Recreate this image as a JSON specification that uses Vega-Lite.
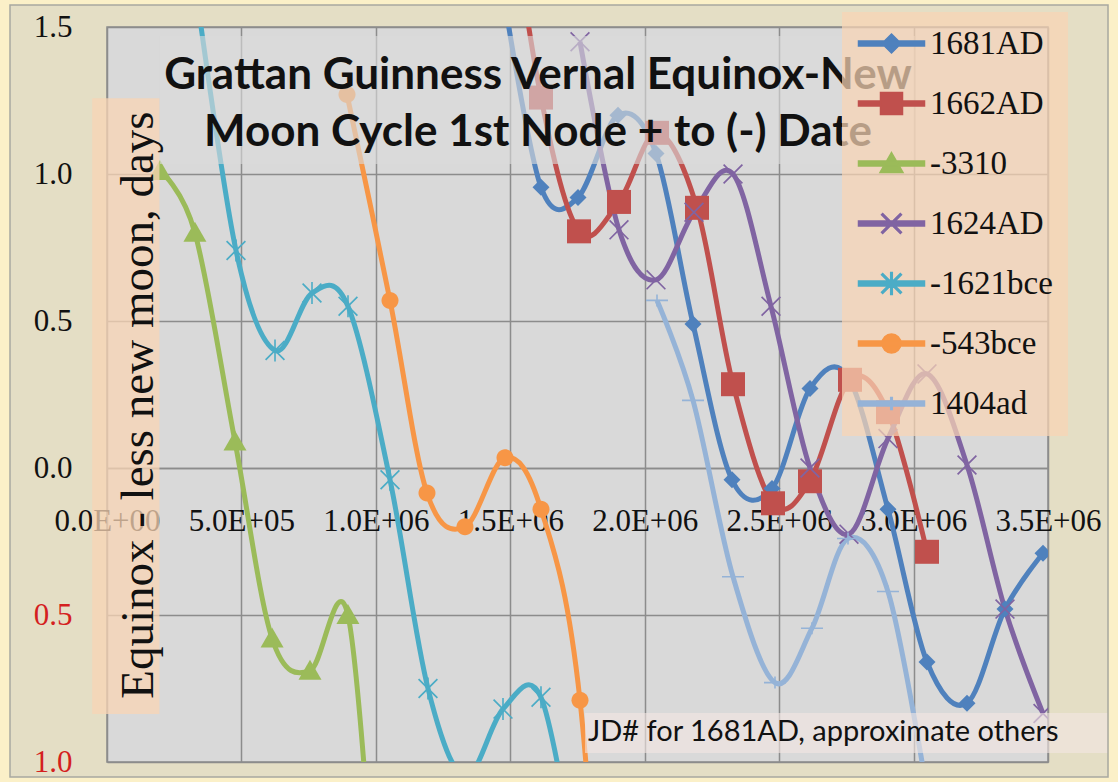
{
  "$schema": "https://vega.github.io/schema/vega-lite/v6.json",
  "width": 941,
  "height": 735,
  "autosize": {"type": "none"},
  "padding": {"left": 107, "top": 27, "right": 70, "bottom": 20},
  "background": "#E4DEC5",
  "config": {
    "view": {"fill": "#D9D9D9", "stroke": "#8C8C8C", "strokeWidth": 1.5}
  },
  "data": {
    "values": [
      {"s": "1681AD", "x": 1473000, "y": 1.62},
      {"s": "1681AD", "x": 1614200, "y": 0.955},
      {"s": "1681AD", "x": 1751800, "y": 0.92},
      {"s": "1681AD", "x": 1900600, "y": 1.2},
      {"s": "1681AD", "x": 2041900, "y": 1.07},
      {"s": "1681AD", "x": 2179600, "y": 0.49},
      {"s": "1681AD", "x": 2324600, "y": -0.04},
      {"s": "1681AD", "x": 2473400, "y": -0.07},
      {"s": "1681AD", "x": 2614700, "y": 0.27},
      {"s": "1681AD", "x": 2756100, "y": 0.31},
      {"s": "1681AD", "x": 2904800, "y": -0.14},
      {"s": "1681AD", "x": 3049900, "y": -0.66},
      {"s": "1681AD", "x": 3198700, "y": -0.8},
      {"s": "1681AD", "x": 3340000, "y": -0.48},
      {"s": "1681AD", "x": 3481400, "y": -0.29},

      {"s": "1662AD", "x": 1473000, "y": 2.1},
      {"s": "1662AD", "x": 1614200, "y": 1.26},
      {"s": "1662AD", "x": 1755600, "y": 0.805},
      {"s": "1662AD", "x": 1904300, "y": 0.905},
      {"s": "1662AD", "x": 2045700, "y": 1.14},
      {"s": "1662AD", "x": 2194500, "y": 0.885},
      {"s": "1662AD", "x": 2328400, "y": 0.285},
      {"s": "1662AD", "x": 2477100, "y": -0.12},
      {"s": "1662AD", "x": 2614700, "y": -0.045},
      {"s": "1662AD", "x": 2763500, "y": 0.3},
      {"s": "1662AD", "x": 2904800, "y": 0.19},
      {"s": "1662AD", "x": 3049900, "y": -0.285},

      {"s": "-3310", "x": 197000, "y": 1.01},
      {"s": "-3310", "x": 327000, "y": 0.8},
      {"s": "-3310", "x": 476000, "y": 0.09},
      {"s": "-3310", "x": 614000, "y": -0.58},
      {"s": "-3310", "x": 755000, "y": -0.69},
      {"s": "-3310", "x": 896000, "y": -0.5},
      {"s": "-3310", "x": 1010000, "y": -1.7},

      {"s": "1624AD", "x": 1759300, "y": 1.45},
      {"s": "1624AD", "x": 1904300, "y": 0.81},
      {"s": "1624AD", "x": 2041900, "y": 0.64},
      {"s": "1624AD", "x": 2183300, "y": 0.87},
      {"s": "1624AD", "x": 2328400, "y": 1.0},
      {"s": "1624AD", "x": 2469700, "y": 0.55},
      {"s": "1624AD", "x": 2614700, "y": 0.0},
      {"s": "1624AD", "x": 2759800, "y": -0.225},
      {"s": "1624AD", "x": 2904800, "y": 0.1},
      {"s": "1624AD", "x": 3049900, "y": 0.32},
      {"s": "1624AD", "x": 3198700, "y": 0.01},
      {"s": "1624AD", "x": 3340000, "y": -0.48},
      {"s": "1624AD", "x": 3481400, "y": -0.835},

      {"s": "-1621bce", "x": 320000, "y": 1.7},
      {"s": "-1621bce", "x": 479800, "y": 0.74},
      {"s": "-1621bce", "x": 624900, "y": 0.4},
      {"s": "-1621bce", "x": 762500, "y": 0.595},
      {"s": "-1621bce", "x": 896400, "y": 0.55},
      {"s": "-1621bce", "x": 1052600, "y": -0.04},
      {"s": "-1621bce", "x": 1193900, "y": -0.75},
      {"s": "-1621bce", "x": 1331500, "y": -1.05},
      {"s": "-1621bce", "x": 1472900, "y": -0.82},
      {"s": "-1621bce", "x": 1614200, "y": -0.78},
      {"s": "-1621bce", "x": 1751800, "y": -1.4},

      {"s": "-543bce", "x": 892700, "y": 1.27},
      {"s": "-543bce", "x": 1052600, "y": 0.57},
      {"s": "-543bce", "x": 1190200, "y": -0.085},
      {"s": "-543bce", "x": 1331500, "y": -0.2},
      {"s": "-543bce", "x": 1480300, "y": 0.035},
      {"s": "-543bce", "x": 1614200, "y": -0.14},
      {"s": "-543bce", "x": 1759300, "y": -0.79},
      {"s": "-543bce", "x": 1896900, "y": -2.5},

      {"s": "1404ad", "x": 2045700, "y": 0.57},
      {"s": "1404ad", "x": 2179600, "y": 0.23},
      {"s": "1404ad", "x": 2328400, "y": -0.37},
      {"s": "1404ad", "x": 2484600, "y": -0.73},
      {"s": "1404ad", "x": 2622100, "y": -0.545},
      {"s": "1404ad", "x": 2756100, "y": -0.24},
      {"s": "1404ad", "x": 2904800, "y": -0.42},
      {"s": "1404ad", "x": 3049900, "y": -1.1}
    ]
  },
  "layer": [
    {
      "mark": {"type": "line", "interpolate": "cardinal", "strokeWidth": 5, "clip": true},
      "encoding": {
        "x": {
          "field": "x", "type": "quantitative",
          "scale": {"domain": [0, 3500000], "nice": false, "zero": false},
          "axis": {
            "values": [0, 500000, 1000000, 1500000, 2000000, 2500000, 3000000, 3500000],
            "title": null,
            "offset": -294,
            "grid": true, "gridColor": "#8C8C8C", "gridWidth": 1.5,
            "domainColor": "#8C8C8C", "domainWidth": 1.5,
            "ticks": false,
            "labelFont": "Liberation Serif", "labelFontSize": 31, "labelColor": "#111111",
            "labelPadding": 38, "labelFlush": false, "labelOverlap": false,
            "labelExpr": "datum.value == 0 ? '0.0E+00' : format(datum.value / pow(10, floor(log(datum.value) / LN10 + 1e-9)), '.1f') + 'E+' + (floor(log(datum.value) / LN10 + 1e-9) < 10 ? '0' : '') + floor(log(datum.value) / LN10 + 1e-9)"
          }
        },
        "y": {
          "field": "y", "type": "quantitative",
          "scale": {"domain": [-1, 1.5], "nice": false, "zero": false},
          "axis": {
            "values": [-1, -0.5, 0, 0.5, 1, 1.5],
            "title": null,
            "grid": true, "gridColor": "#8C8C8C", "gridWidth": 1.5,
            "domain": false, "ticks": false,
            "labelFont": "Liberation Serif", "labelFontSize": 31,
            "labelPadding": 35, "labelFlush": false,
            "labelExpr": "format(abs(datum.value), '.1f')",
            "labelColor": {"condition": {"test": "datum.value < 0", "value": "#D41F1F"}, "value": "#111111"}
          }
        },
        "color": {
          "field": "s", "type": "nominal",
          "scale": {
            "domain": ["1681AD", "1662AD", "-3310", "1624AD", "-1621bce", "-543bce", "1404ad"],
            "range": ["#4F81BD", "#C0504D", "#9BBB59", "#8064A2", "#4BACC6", "#F79646", "#95B3D7"]
          },
          "legend": {
            "title": null,
            "orient": "none",
            "legendX": 735,
            "legendY": -15,
            "padding": 15,
            "fillColor": "rgba(248,212,180,0.72)",
            "strokeColor": null,
            "symbolSize": 400,
            "symbolOpacity": 1,
            "symbolOffset": 18,
            "labelOffset": 22,
            "rowPadding": 26,
            "labelFont": "Liberation Serif",
            "labelFontSize": 33,
            "labelColor": "#111111",
            "labelLimit": 0
          }
        }
      }
    },
    {
      "mark": {"type": "point", "filled": true, "size": 0, "opacity": 1, "clip": true},
      "encoding": {
        "x": {"field": "x", "type": "quantitative"},
        "y": {"field": "y", "type": "quantitative"},
        "color": {"field": "s", "type": "nominal"},
        "shape": {
          "field": "s", "type": "nominal",
          "scale": {
            "domain": ["1681AD", "1662AD", "-3310", "1624AD", "-1621bce", "-543bce", "1404ad"],
            "range": [
              "M-3.3,-0.25H3.3V0.25H-3.3Z M0,-0.95L0.95,0L0,0.95L-0.95,0Z",
              "M-3.3,-0.25H3.3V0.25H-3.3Z M-1.1,-1.1H1.1V1.1H-1.1Z",
              "M-3.3,-0.25H3.3V0.25H-3.3Z M0,-1.1L1.15,0.9H-1.15Z",
              "M-3.3,-0.25H3.3V0.25H-3.3Z M-0.88,-1L1,0.88L0.88,1L-1,-0.88Z M0.88,-1L1,-0.88L-0.88,1L-1,0.88Z",
              "M-3.3,-0.25H3.3V0.25H-3.3Z M-0.88,-1L1,0.88L0.88,1L-1,-0.88Z M0.88,-1L1,-0.88L-0.88,1L-1,0.88Z M-0.08,-1.1H0.08V1.1H-0.08Z",
              "M-3.3,-0.25H3.3V0.25H-3.3Z M0.95,0A0.95,0.95,0,1,1,-0.95,0A0.95,0.95,0,1,1,0.95,0Z",
              "M-3.3,-0.25H3.3V0.25H-3.3Z M-0.08,-0.6H0.08V0.6H-0.08Z"
            ]
          },
          "legend": null
        }
      }
    },
    {
      "transform": [{"filter": "datum.s === '1681AD'"}],
      "mark": {"type": "point", "filled": true, "size": 400, "opacity": 1, "clip": true, "color": "#4F81BD", "shape": "M0,-0.85L0.85,0L0,0.85L-0.85,0Z"},
      "encoding": {"x": {"field": "x", "type": "quantitative"}, "y": {"field": "y", "type": "quantitative"}}
    },
    {
      "transform": [{"filter": "datum.s === '1662AD'"}],
      "mark": {"type": "point", "filled": true, "size": 400, "opacity": 1, "clip": true, "color": "#C0504D", "shape": "M-1.2,-1.2H1.2V1.2H-1.2Z"},
      "encoding": {"x": {"field": "x", "type": "quantitative"}, "y": {"field": "y", "type": "quantitative"}}
    },
    {
      "transform": [{"filter": "datum.s === '-3310'"}],
      "mark": {"type": "point", "filled": true, "size": 400, "opacity": 1, "clip": true, "color": "#9BBB59", "shape": "M0,-1.1L1.15,0.9H-1.15Z"},
      "encoding": {"x": {"field": "x", "type": "quantitative"}, "y": {"field": "y", "type": "quantitative"}}
    },
    {
      "transform": [{"filter": "datum.s === '1624AD'"}],
      "mark": {"type": "point", "filled": true, "size": 400, "opacity": 1, "clip": true, "color": "#8064A2", "shape": "M-0.88,-1L1,0.88L0.88,1L-1,-0.88Z M0.88,-1L1,-0.88L-0.88,1L-1,0.88Z"},
      "encoding": {"x": {"field": "x", "type": "quantitative"}, "y": {"field": "y", "type": "quantitative"}}
    },
    {
      "transform": [{"filter": "datum.s === '-1621bce'"}],
      "mark": {"type": "point", "filled": true, "size": 400, "opacity": 1, "clip": true, "color": "#4BACC6", "shape": "M-0.88,-1L1,0.88L0.88,1L-1,-0.88Z M0.88,-1L1,-0.88L-0.88,1L-1,0.88Z M-0.08,-1.1H0.08V1.1H-0.08Z"},
      "encoding": {"x": {"field": "x", "type": "quantitative"}, "y": {"field": "y", "type": "quantitative"}}
    },
    {
      "transform": [{"filter": "datum.s === '-543bce'"}],
      "mark": {"type": "point", "filled": true, "size": 400, "opacity": 1, "clip": true, "color": "#F79646", "shape": "M0.85,0A0.85,0.85,0,1,1,-0.85,0A0.85,0.85,0,1,1,0.85,0Z"},
      "encoding": {"x": {"field": "x", "type": "quantitative"}, "y": {"field": "y", "type": "quantitative"}}
    },
    {
      "transform": [{"filter": "datum.s === '1404ad'"}],
      "mark": {"type": "point", "filled": true, "size": 400, "opacity": 1, "clip": true, "color": "#95B3D7", "shape": "M-1.1,-0.08H1.1V0.08H-1.1Z M-0.08,-0.6H0.08V0.6H-0.08Z"},
      "encoding": {"x": {"field": "x", "type": "quantitative"}, "y": {"field": "y", "type": "quantitative"}}
    },
    {
      "data": {"values": [{}]},
      "mark": {"type": "rect", "fill": "#DADADA", "opacity": 0.62},
      "encoding": {
        "x": {"datum": 197000}, "x2": {"datum": 3005000},
        "y": {"datum": 1.469}, "y2": {"datum": 1.034}
      }
    },
    {
      "data": {"values": [{}]},
      "mark": {"type": "text", "font": "Lato", "fontWeight": "bold", "fontSize": 44, "align": "center", "baseline": "alphabetic", "lineHeight": 57, "color": "#111111"},
      "encoding": {
        "x": {"datum": 1603000}, "y": {"datum": 1.289},
        "text": {"value": ["Grattan Guinness Vernal Equinox-New", "Moon Cycle 1st Node + to (-) Date"]}
      }
    },
    {
      "data": {"values": [{}]},
      "mark": {"type": "rect", "fill": "#F8D4B4", "opacity": 0.75},
      "encoding": {
        "x": {"datum": -55000}, "x2": {"datum": 195000},
        "y": {"datum": 1.258}, "y2": {"datum": -0.837}
      }
    },
    {
      "data": {"values": [{}]},
      "mark": {"type": "text", "font": "Liberation Serif", "fontSize": 47, "angle": 270, "align": "center", "baseline": "alphabetic", "color": "#111111"},
      "encoding": {
        "x": {"datum": 171000}, "y": {"datum": 0.214},
        "text": {"value": "Equinox - less new moon, days"}
      }
    },
    {
      "data": {"values": [{}]},
      "mark": {"type": "rect", "fill": "#F4E6E2", "opacity": 0.6},
      "encoding": {
        "x": {"datum": 1778000}, "x2": {"datum": 3730000},
        "y": {"datum": -0.833}, "y2": {"datum": -0.969}
      }
    },
    {
      "data": {"values": [{}]},
      "mark": {"type": "text", "font": "Lato", "fontSize": 29, "align": "left", "baseline": "alphabetic", "color": "#111111"},
      "encoding": {
        "x": {"datum": 1789000}, "y": {"datum": -0.929},
        "text": {"value": "JD# for 1681AD, approximate others"}
      }
    },
    {
      "data": {"values": [{}]},
      "mark": {"type": "rect", "fill": null, "stroke": "#FBF0C8", "strokeWidth": 10},
      "encoding": {
        "x": {"datum": -379400}, "x2": {"datum": 3741700},
        "y": {"datum": 1.592}, "y2": {"datum": -1.068}
      }
    },
    {
      "data": {"values": [{}]},
      "mark": {"type": "rect", "fill": null, "stroke": "#A8A8A0", "strokeWidth": 1.5},
      "encoding": {
        "x": {"datum": -360800}, "x2": {"datum": 3723200},
        "y": {"datum": 1.575}, "y2": {"datum": -1.051}
      }
    }
  ]
}
